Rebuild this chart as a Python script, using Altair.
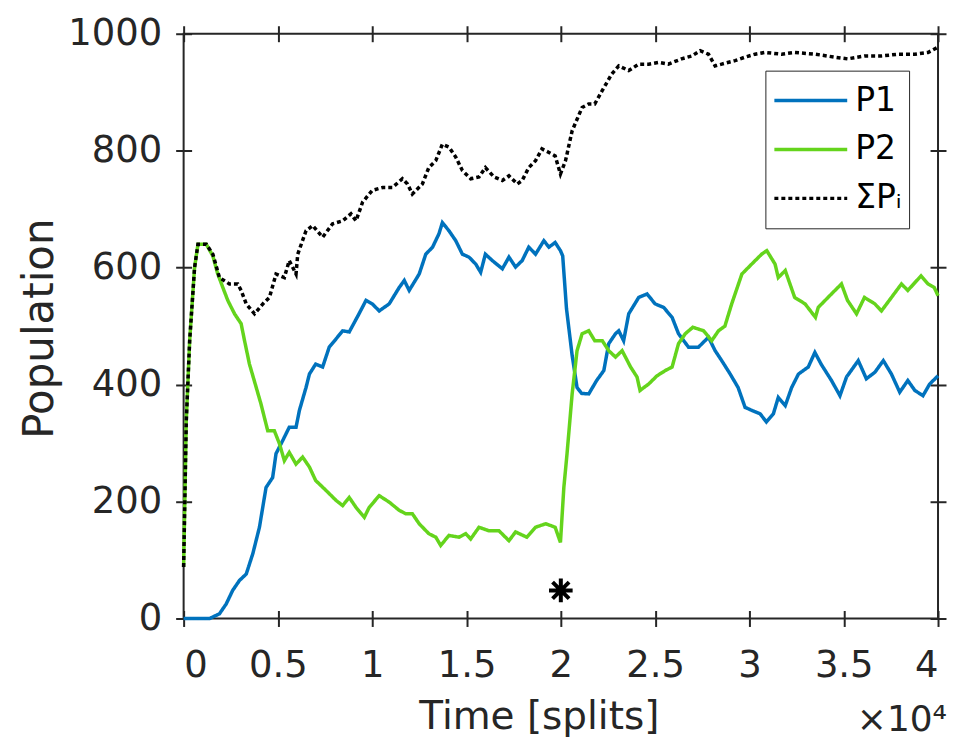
import altair as alt
import pandas as pd

# ---- data (time in units of 1e4 splits) ----
series_names = ["P1", "P2", "ΣPᵢ"]
series_colors = ["#0072BD", "#64D41C", "#000000"]
series_widths = [3.5, 3.5, 4.5]

p1_t = [0, 0.138, 0.19, 0.226, 0.26, 0.296, 0.332, 0.367, 0.402, 0.437, 0.472, 0.49, 0.525,
        0.56, 0.596, 0.614, 0.649, 0.667, 0.70, 0.737, 0.772, 0.808, 0.843, 0.878, 0.93, 0.967,
        1.0, 1.037, 1.09, 1.143, 1.17, 1.196, 1.249, 1.284, 1.32, 1.354, 1.372, 1.407, 1.443,
        1.478, 1.513, 1.549, 1.575, 1.60, 1.637, 1.69, 1.725, 1.76, 1.795, 1.83, 1.866, 1.91,
        1.937, 1.97, 1.998, 2.01, 2.03, 2.06, 2.086, 2.11, 2.148, 2.19, 2.228, 2.254, 2.29,
        2.307, 2.333, 2.36, 2.413, 2.457, 2.50, 2.545, 2.59, 2.624, 2.677, 2.73, 2.783, 2.818,
        2.853, 2.898, 2.94, 2.977, 3.012, 3.057, 3.09, 3.127, 3.153, 3.19, 3.224, 3.26, 3.312,
        3.347, 3.38, 3.435, 3.48, 3.515, 3.577, 3.62, 3.665, 3.71, 3.753, 3.797, 3.84, 3.877,
        3.92, 3.956, 4.0]
p1_v = [0, 0, 8, 25, 48, 65, 76, 111, 156, 224, 241, 282, 304,
        327, 327, 356, 395, 418, 435, 430, 464, 478, 492, 490, 521, 544,
        538, 526, 538, 566, 578, 561, 589, 623, 635, 658, 677, 663, 646,
        623, 618, 606, 592, 623, 612, 598, 618, 601, 612, 635, 623, 646,
        635, 643, 629, 620, 530, 450, 395, 385, 384, 407, 424, 470, 487,
        492, 475, 521, 549, 555, 538, 532, 515, 487, 464, 464, 481, 458,
        441, 418, 395, 361, 356, 350, 336, 350, 378, 364, 395, 418, 430,
        455, 435, 407, 381, 413, 441, 410, 421, 441, 418, 387, 407, 390,
        381, 401, 415]

p2_t = [0, 0.014, 0.032, 0.058, 0.076, 0.12, 0.155, 0.18, 0.208, 0.234, 0.27, 0.305, 0.323,
        0.349, 0.385, 0.41, 0.446, 0.481, 0.508, 0.534, 0.56, 0.596, 0.631, 0.667, 0.70, 0.755,
        0.808, 0.843, 0.878, 0.914, 0.958, 0.984, 1.037, 1.09, 1.143, 1.178, 1.213, 1.249, 1.30,
        1.337, 1.363, 1.407, 1.46, 1.496, 1.522, 1.566, 1.619, 1.672, 1.725, 1.76, 1.82, 1.866,
        1.92, 1.97, 1.998, 2.016, 2.033, 2.06, 2.086, 2.113, 2.148, 2.18, 2.22, 2.254, 2.29,
        2.325, 2.37, 2.404, 2.42, 2.466, 2.51, 2.554, 2.59, 2.624, 2.66, 2.70, 2.757, 2.80,
        2.836, 2.87, 2.906, 2.96, 3.012, 3.065, 3.092, 3.136, 3.153, 3.19, 3.24, 3.295, 3.35,
        3.365, 3.435, 3.488, 3.52, 3.568, 3.61, 3.665, 3.70, 3.753, 3.806, 3.84, 3.91, 3.947,
        3.98, 4.0]
p2_v = [88, 338, 475, 600, 640, 640, 620, 590, 566, 544, 521, 504, 475,
        435, 395, 367, 321, 321, 299, 270, 284, 264, 276, 259, 236, 219,
        202, 193, 207, 190, 173, 190, 210, 199, 185, 179, 179, 162, 145,
        139, 125, 142, 139, 145, 136, 156, 150, 150, 133, 148, 139, 156,
        162, 156, 130, 224, 282, 384, 458, 487, 492, 475, 475, 458, 447,
        458, 430, 413, 390, 401, 415, 424, 430, 470, 487, 498, 492, 475,
        492, 500, 538, 589, 606, 623, 629, 606, 583, 595, 549, 538, 515,
        532, 555, 572, 544, 521, 549, 538, 526, 549, 572, 561, 586, 572,
        566, 552]

sum_t = [0, 0.014, 0.032, 0.058, 0.076, 0.12, 0.155, 0.19, 0.243, 0.287, 0.305, 0.332, 0.376,
         0.42, 0.455, 0.49, 0.534, 0.56, 0.596, 0.605, 0.649, 0.684, 0.737, 0.79, 0.843, 0.887,
         0.914, 0.949, 1.0, 1.055, 1.107, 1.16, 1.187, 1.213, 1.266, 1.30, 1.337, 1.372, 1.407,
         1.443, 1.478, 1.522, 1.566, 1.60, 1.646, 1.69, 1.725, 1.769, 1.795, 1.83, 1.866, 1.90,
         1.937, 1.97, 1.998, 2.025, 2.06, 2.113, 2.148, 2.18, 2.22, 2.27, 2.307, 2.36, 2.413,
         2.466, 2.52, 2.57, 2.64, 2.695, 2.739, 2.783, 2.818, 2.853, 2.924, 2.977, 3.03, 3.083,
         3.17, 3.24, 3.35, 3.45, 3.52, 3.61, 3.70, 3.79, 3.877, 3.947, 4.0]
sum_v = [88, 338, 475, 600, 640, 640, 623, 583, 572, 572, 561, 538, 521,
         538, 549, 589, 583, 612, 589, 623, 663, 672, 652, 675, 680, 692,
         680, 712, 732, 737, 737, 752, 743, 726, 743, 771, 783, 811, 806,
         789, 766, 752, 755, 771, 755, 749, 757, 743, 749, 771, 783, 803,
         797, 791, 760, 783, 834, 874, 880, 880, 903, 931, 945, 937, 948,
         948, 951, 948, 957, 962, 971, 965, 945, 948, 954, 960, 965, 968,
         965, 968, 965, 960, 957, 962, 962, 965, 965, 968, 977]

marker_t = [2.0]
marker_v = [48]

x_ticks = [0, 0.5, 1, 1.5, 2, 2.5, 3, 3.5, 4]
y_ticks = [0, 200, 400, 600, 800, 1000]

rows = []
for name, ts, vs in zip(series_names, [p1_t, p2_t, sum_t], [p1_v, p2_v, sum_v]):
    for t, v in zip(ts, vs):
        rows.append({"t": t, "v": v, "series": name})
df = pd.DataFrame(rows)
marker_df = pd.DataFrame({"t": marker_t, "v": marker_v})

FONT = "DejaVu Sans"
INK = "#262626"

xscale = alt.Scale(domain=[0, 4], nice=False, zero=False)
yscale = alt.Scale(domain=[0, 1000], nice=False)

tick_style = dict(tickSize=16, tickWidth=2, tickColor=INK, domain=False, grid=False, offset=-8)

x_bottom = alt.Axis(orient="bottom", values=x_ticks, labelExpr="datum.value",
                    labelFont=FONT, labelFontSize=37, labelColor=INK, labelPadding=21,
                    title="Time [splits]", titleFont=FONT, titleFontSize=39,
                    titleFontWeight="normal", titleColor=INK, titleX=356, titleY=118,
                    titleBaseline="alphabetic", **tick_style)
y_left = alt.Axis(orient="left", values=y_ticks, labelExpr="datum.value",
                  labelFont=FONT, labelFontSize=37, labelColor=INK, labelPadding=14,
                  title="Population", titleFont=FONT, titleFontSize=42,
                  titleFontWeight="normal", titleColor=INK, titleX=-139, titleY=295,
                  titleAngle=270, titleAlign="center", titleBaseline="alphabetic",
                  **tick_style)
x_top = alt.Axis(orient="top", values=x_ticks, labels=False, title=None, **tick_style)
y_right = alt.Axis(orient="right", values=y_ticks, labels=False, title=None, **tick_style)

legend = alt.Legend(title=None, orient="none", legendX=583, legendY=37,
                    symbolType="stroke", symbolSize=5329, symbolStrokeWidth=4,
                    clipHeight=46, rowPadding=3, padding=7, labelOffset=6,
                    labelFont=FONT, labelFontSize=33, labelColor="#000000",
                    strokeColor=INK, fillColor="white")

lines = alt.Chart(df).mark_line().encode(
    x=alt.X("t:Q", scale=xscale, axis=x_bottom),
    y=alt.Y("v:Q", scale=yscale, axis=y_left),
    color=alt.Color("series:N", scale=alt.Scale(domain=series_names, range=series_colors),
                    legend=legend),
    strokeDash=alt.StrokeDash("series:N",
                              scale=alt.Scale(domain=series_names,
                                              range=[[1, 0], [1, 0], [4, 3]]),
                              legend=legend),
    strokeWidth=alt.StrokeWidth("series:N",
                                scale=alt.Scale(domain=series_names, range=series_widths),
                                legend=None),
    order=alt.Order("t:Q"),
)

asterisk = "M0,-1L0,1M-1,0L1,0M-0.7,-0.7L0.7,0.7M-0.7,0.7L0.7,-0.7"
mark = alt.Chart(marker_df).mark_point(shape=asterisk, filled=False, stroke="black",
                                       strokeWidth=4, size=560, opacity=1).encode(
    x=alt.X("t:Q", scale=xscale, axis=x_top),
    y=alt.Y("v:Q", scale=yscale, axis=y_right),
)

chart = alt.layer(lines, mark).resolve_axis(x="independent", y="independent").properties(
    width=756, height=586,
    autosize=alt.AutoSizeParams(type="none"),
    padding={"left": 176, "top": 25, "right": 10, "bottom": 122},
    title=alt.TitleParams(text="×10⁴", orient="bottom", anchor="end", font=FONT,
                          fontSize=36, fontWeight="normal", color=INK, offset=-33),
).configure_view(stroke=INK, strokeWidth=2)

chart.save("out.html", embed_options={"renderer": "svg", "actions": False})
